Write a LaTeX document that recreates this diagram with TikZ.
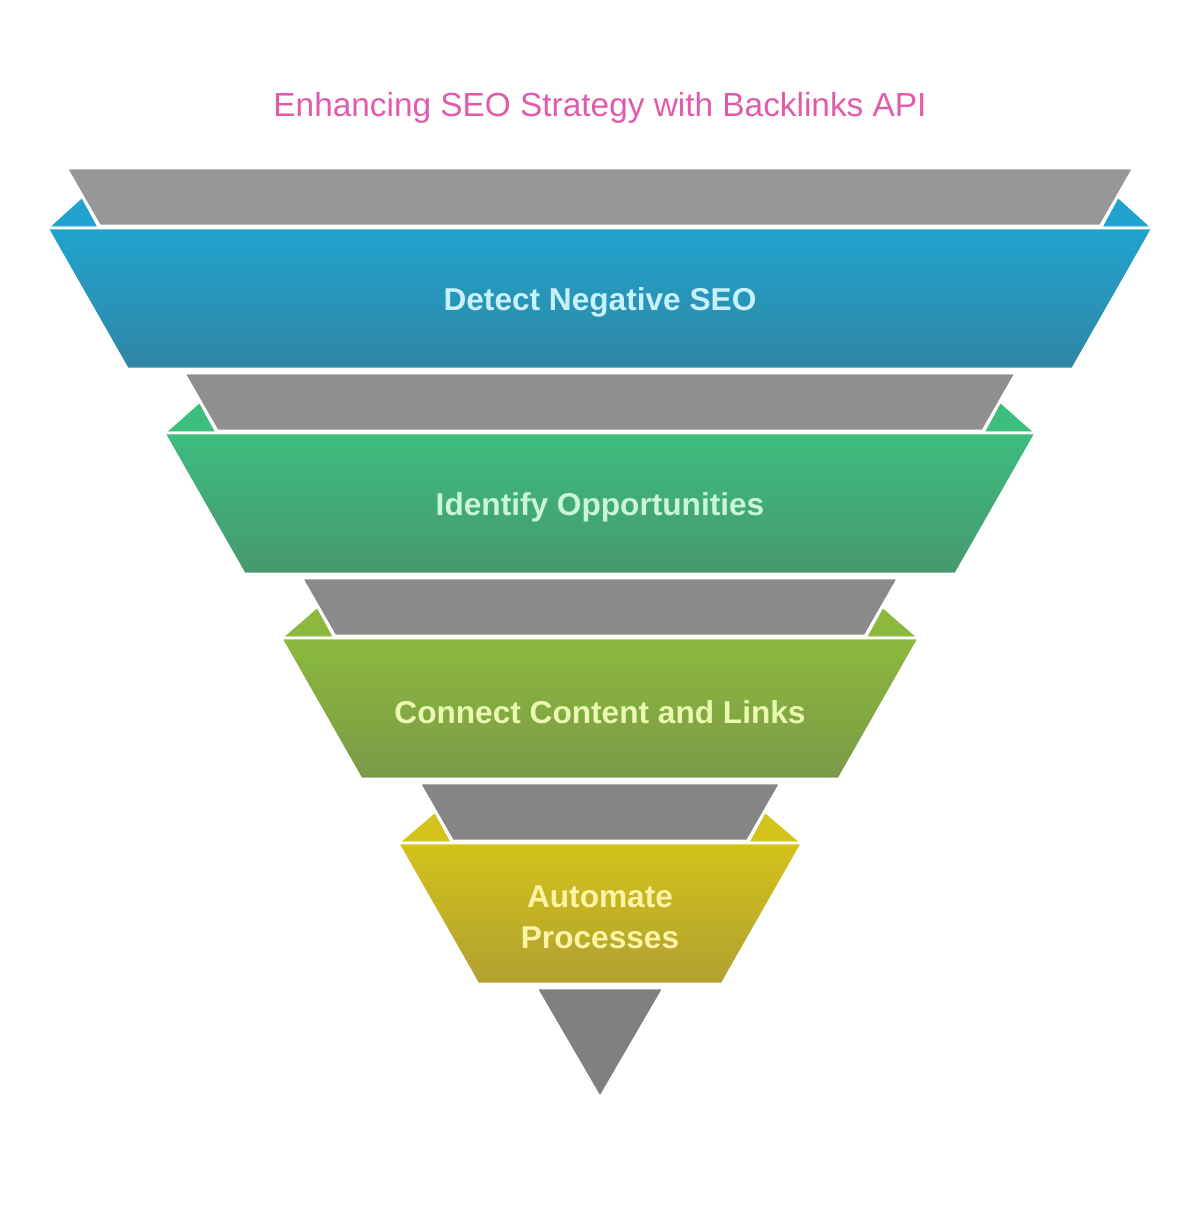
\documentclass[tikz,border=0pt]{standalone}
\usepackage{fontspec}
\setmainfont{Liberation Sans}
\usepackage{xcolor}
\usetikzlibrary{positioning}

\definecolor{titlepink}{HTML}{E35AAA}
\definecolor{blueTop}{HTML}{21A3CF}
\definecolor{blueBot}{HTML}{2F86A3}
\definecolor{blueTxt}{HTML}{C8F1FF}
\definecolor{greenTop}{HTML}{3DBD7E}
\definecolor{greenBot}{HTML}{46986F}
\definecolor{greenTxt}{HTML}{C9F6D8}
\definecolor{oliveTop}{HTML}{8CB93D}
\definecolor{oliveBot}{HTML}{7A9A47}
\definecolor{oliveTxt}{HTML}{EAF8B0}
\definecolor{yellowTop}{HTML}{D4C31A}
\definecolor{yellowBot}{HTML}{B09F30}
\definecolor{yellowTxt}{HTML}{FFF3A6}
\definecolor{grayA}{HTML}{979797}
\definecolor{grayB}{HTML}{8F8F8F}
\definecolor{grayC}{HTML}{8A8A8A}
\definecolor{grayD}{HTML}{858585}
\definecolor{grayE}{HTML}{808080}

\tikzset{
  piece/.style={draw=white, line width=1.6pt, line join=miter},
  bandtext/.style={font=\bfseries\fontsize{18}{23.3}\selectfont, align=center},
}

\begin{document}
\begin{tikzpicture}[x=0.02cm, y=-0.02cm]
        \useasboundingbox (0,0) rectangle (1200,1214);
        \node[text=titlepink, font=\fontsize{19}{23}\selectfont] (title) at (600,108) {Enhancing SEO Strategy with Backlinks API};
        % funnel levels: gray slice, side flaps, coloured band
        \foreach \gc/\ct/\cb/\tc/\txt [count=\i from 0] in {
            grayA/blueTop/blueBot/blueTxt/{Detect Negative SEO},
            grayB/greenTop/greenBot/greenTxt/{Identify Opportunities},
            grayC/oliveTop/oliveBot/oliveTxt/{Connect Content and Links},
            grayD/yellowTop/yellowBot/yellowTxt/{Automate\\Processes}}
        {
            \pgfmathsetmacro{\yg}{168+205*\i}
            \pgfmathsetmacro{\yc}{\yg+60}
            \pgfmathsetmacro{\yb}{\yc+141}
            \pgfmathsetmacro{\hwGrayTop}{(1098-\yg)*0.574}
            \pgfmathsetmacro{\hwGrayBot}{(1100-\yc)*0.574}
            \pgfmathsetmacro{\hwFlap}{(1130-\yc)*0.574}
            \pgfmathsetmacro{\hwBandTop}{(1198.2-\yc)*0.57}
            \pgfmathsetmacro{\hwBandBot}{(1198.2-\yb)*0.57}
            % flaps
            \path[piece, fill=\ct] (600-\hwBandTop,\yc) -- (600-\hwGrayBot,\yc) -- (600-\hwFlap,\yc-32) -- cycle;
            \path[piece, fill=\ct] (600+\hwBandTop,\yc) -- (600+\hwGrayBot,\yc) -- (600+\hwFlap,\yc-32) -- cycle;
            % gray slice
            \path[piece, fill=\gc] (600-\hwGrayTop,\yg) -- (600+\hwGrayTop,\yg) -- (600+\hwGrayBot,\yc-2) -- (600-\hwGrayBot,\yc-2) -- cycle;
            % coloured band
            \path[piece, top color=\ct, bottom color=\cb] (600-\hwBandTop,\yc) -- (600+\hwBandTop,\yc) -- (600+\hwBandBot,\yb) -- (600-\hwBandBot,\yb) -- cycle;
            \node[bandtext, text=\tc] (band\i) at (600,\yc+74) {\txt};
        }
        \path[piece, fill=grayE] (536,988) -- (664,988) -- (600,1098) -- cycle;
\end{tikzpicture}
\end{document}
